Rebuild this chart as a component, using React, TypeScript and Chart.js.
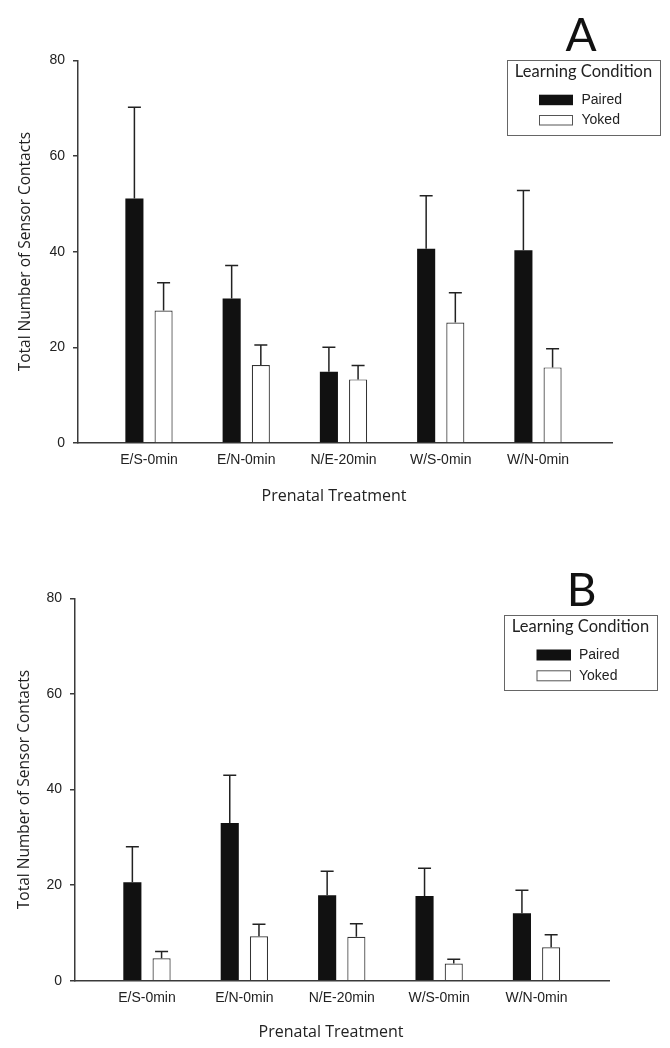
import React, { useEffect, useRef } from 'react';
import { Chart, registerables } from 'chart.js';

Chart.register(...registerables);

// ---------- data ----------
const categories = ['E/S-0min', 'E/N-0min', 'N/E-20min', 'W/S-0min', 'W/N-0min'];
const seriesLabels = ['Paired', 'Yoked'];
const yTickValues = [0, 20, 40, 60, 80];
const legendTitle = 'Learning Condition';
const xAxisTitle = 'Prenatal Treatment';
const yAxisTitle = 'Total Number of Sensor Contacts';

const pairedA = [51.1, 30.2, 14.9, 40.6, 40.3];
const pairedErrA = [19.1, 6.9, 5.1, 11.1, 12.5];
const yokedA = [27.7, 16.3, 13.3, 25.2, 15.8];
const yokedErrA = [5.8, 4.2, 2.9, 6.2, 3.9];

const pairedB = [20.6, 33.0, 17.9, 17.7, 14.1];
const pairedErrB = [7.4, 10.0, 5.0, 5.8, 4.8];
const yokedB = [4.7, 9.3, 9.2, 3.6, 7.0];
const yokedErrB = [1.4, 2.5, 2.7, 0.9, 2.6];

// ---------- layout ----------
const TICK_FONT = '"Liberation Sans Narrow", "Liberation Sans", Arial, sans-serif';
const TITLE_FONT = '"Open Sans", "DejaVu Sans", sans-serif';
const LEGEND_FONT = 'Lato, "Open Sans", sans-serif';
const INK = '#222';
const AXIS = '#3a3a3a';

const layoutA = {
  top: 0, height: 525,
  area: { left: 78, right: 612, top: 60.3, bottom: 443 },
  xMin: -0.73, xMax: 4.761,
  xTitleX: 334, xTitleY: 496, yTitleX: 26,
  letter: 'A', letterX: 581, letterY: 51,
  legend: { x: 507, y: 60, w: 153, h: 75, titleY: 72, swX: 539, swW: 34, swH: 10.5, pairedY: 94.7, yokedY: 115, textX: 581.5 },
};
const layoutB = {
  top: 525, height: 523,
  area: { left: 75, right: 609, top: 73.3, bottom: 455.7 },
  xMin: -0.739, xMax: 4.744,
  xTitleX: 331, xTitleY: 507, yTitleX: 25,
  letter: 'B', letterX: 581.5, letterY: 81,
  legend: { x: 504, y: 90, w: 153, h: 75, titleY: 102, swX: 536.5, swW: 34.5, swH: 11, pairedY: 124.5, yokedY: 145.3, textX: 579 },
};

type Layout = typeof layoutA;

function makePlugin(L: Layout) {
  return {
    id: 'decor' + L.letter,
    afterDatasetsDraw(chart: any) {
      const ctx = chart.ctx as CanvasRenderingContext2D;
      const yScale = chart.scales.y;
      ctx.save();
      ctx.strokeStyle = INK;
      ctx.lineWidth = 1.5;
      chart.data.datasets.forEach((ds: any, i: number) => {
        const meta = chart.getDatasetMeta(i);
        meta.data.forEach((bar: any, j: number) => {
          const v = ds.data[j].y;
          const e = ds.errors[j];
          const yTop = yScale.getPixelForValue(v + e);
          ctx.beginPath();
          ctx.moveTo(bar.x, bar.y);
          ctx.lineTo(bar.x, yTop);
          ctx.moveTo(bar.x - 6.5, yTop);
          ctx.lineTo(bar.x + 6.5, yTop);
          ctx.stroke();
        });
      });
      ctx.restore();
    },
    afterDraw(chart: any) {
      const ctx = chart.ctx as CanvasRenderingContext2D;
      ctx.save();
      ctx.fillStyle = INK;
      // x title
      ctx.font = `16px ${TITLE_FONT}`;
      ctx.textAlign = 'center';
      ctx.textBaseline = 'middle';
      ctx.fillText(xAxisTitle, L.xTitleX, L.xTitleY);
      // y title
      ctx.save();
      ctx.font = `15.5px ${TITLE_FONT}`;
      ctx.translate(L.yTitleX, (L.area.top + L.area.bottom) / 2);
      ctx.rotate(-Math.PI / 2);
      ctx.fillText(yAxisTitle, 0, 0);
      ctx.restore();
      // panel letter
      ctx.font = `46px ${LEGEND_FONT}`;
      ctx.textBaseline = 'alphabetic';
      ctx.fillStyle = '#111';
      ctx.fillText(L.letter, L.letterX, L.letterY);
      // legend
      const lg = L.legend;
      ctx.strokeStyle = '#666';
      ctx.lineWidth = 1;
      ctx.strokeRect(lg.x + 0.5, lg.y + 0.5, lg.w, lg.h);
      ctx.fillStyle = INK;
      ctx.font = `16.5px ${LEGEND_FONT}`;
      ctx.textAlign = 'center';
      ctx.textBaseline = 'middle';
      ctx.fillText(legendTitle, lg.x + lg.w / 2, lg.titleY);
      // swatches
      ctx.fillStyle = '#111';
      ctx.fillRect(lg.swX, lg.pairedY, lg.swW, lg.swH);
      ctx.fillStyle = '#fff';
      ctx.fillRect(lg.swX, lg.yokedY, lg.swW, lg.swH);
      ctx.strokeStyle = '#555';
      ctx.strokeRect(lg.swX + 0.5, lg.yokedY + 0.5, lg.swW - 1, lg.swH - 1);
      ctx.fillStyle = INK;
      ctx.font = `14px ${TICK_FONT}`;
      ctx.textAlign = 'left';
      ctx.fillText(seriesLabels[0], lg.textX, lg.pairedY + lg.swH / 2);
      ctx.fillText(seriesLabels[1], lg.textX, lg.yokedY + lg.swH / 2);
      ctx.restore();
    },
  };
}

function Panel({ L, paired, pairedErr, yoked, yokedErr }: { L: Layout; paired: number[]; pairedErr: number[]; yoked: number[]; yokedErr: number[] }) {
  const ref = useRef<HTMLCanvasElement>(null);
  useEffect(() => {
    const canvas = ref.current!;
    const chart = new Chart(canvas, {
      type: 'bar',
      data: {
        datasets: [
          {
            label: seriesLabels[0],
            data: paired.map((v, i) => ({ x: i, y: v })),
            errors: pairedErr,
            backgroundColor: '#111',
            borderColor: '#111',
            borderWidth: 0,
          } as any,
          {
            label: seriesLabels[1],
            data: yoked.map((v, i) => ({ x: i, y: v })),
            errors: yokedErr,
            backgroundColor: '#fff',
            borderColor: '#333',
            borderWidth: 1.2,
          } as any,
        ],
      },
      options: {
        responsive: false,
        animation: false,
        events: [],
        layout: { padding: { left: 0, top: L.area.top, right: 670 - L.area.right, bottom: 0 } },
        datasets: { bar: { categoryPercentage: 0.6, barPercentage: 0.62 } },
        plugins: { legend: { display: false }, tooltip: { enabled: false } },
        scales: {
          x: {
            type: 'linear',
            offset: false,
            min: L.xMin,
            max: L.xMax,
            grid: { display: false, drawTicks: false, offset: false },
            border: { display: true, color: AXIS, width: 1.5 },
            afterBuildTicks: (s: any) => { s.ticks = categories.map((_, i) => ({ value: i })); },
            afterFit: (s: any) => { s.height = L.height - L.area.bottom; },
            ticks: {
              autoSkip: false,
              maxRotation: 0,
              padding: 9,
              color: INK,
              font: { family: TICK_FONT, size: 14 },
              callback: (v: any) => categories[Math.round(Number(v))] ?? '',
            },
          },
          y: {
            min: 0,
            max: 80,
            grid: { display: true, drawOnChartArea: false, drawTicks: true, tickLength: 5, color: AXIS, lineWidth: 1.5 },
            border: { display: true, color: AXIS, width: 1.5 },
            afterBuildTicks: (s: any) => { s.ticks = yTickValues.map((v) => ({ value: v })); },
            afterFit: (s: any) => { s.width = L.area.left; },
            ticks: { padding: 8, color: INK, font: { family: TICK_FONT, size: 14 } },
          },
        },
      } as any,
      plugins: [makePlugin(L)],
    });
    return () => chart.destroy();
  }, []);
  return (
    <canvas
      ref={ref}
      width={670}
      height={L.height}
      style={{ position: 'absolute', left: 0, top: L.top, width: 670, height: L.height }}
    />
  );
}

export default function App() {
  return (
    <div style={{ position: 'absolute', left: 0, top: 0, width: 670, height: 1048, background: '#fff' }}>
      <Panel L={layoutA} paired={pairedA} pairedErr={pairedErrA} yoked={yokedA} yokedErr={yokedErrA} />
      <Panel L={layoutB} paired={pairedB} pairedErr={pairedErrB} yoked={yokedB} yokedErr={yokedErrB} />
    </div>
  );
}
